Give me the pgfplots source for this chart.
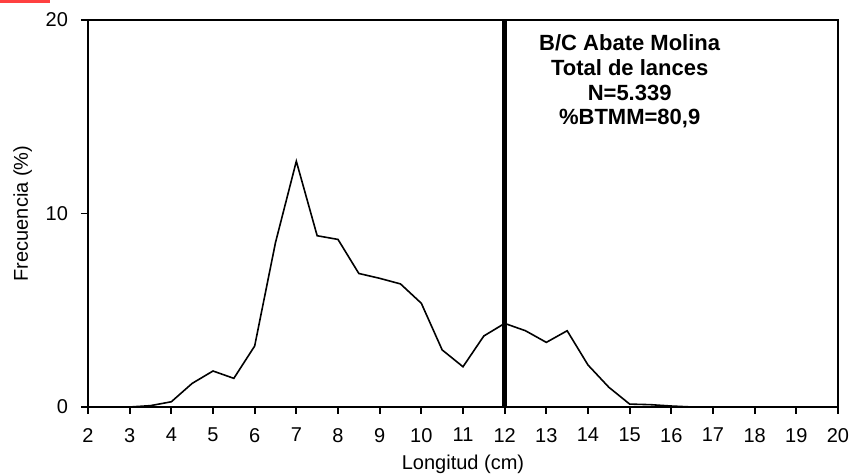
\documentclass[border=0pt]{standalone}
\usepackage{fontspec}
\setmainfont{Liberation Sans}
\usepackage{pgfplots}
\pgfplotsset{compat=1.18}

\begin{document}
\begin{tikzpicture}
\begin{axis}[
  width=375pt, height=193.5pt,
  scale only axis,
  xmin=2, xmax=20, ymin=0, ymax=20,
  xtick={2,3,...,20},
  ytick={0,10,20},
  tick align=outside,
  major tick length=3.5pt,
  xtick pos=bottom, ytick pos=left,
  axis line style={line width=1.2pt},
  every tick/.style={black, line width=0.9pt},
  tick label style={font=\fontsize{10}{12}\selectfont},
  /pgf/number format/assume math mode=true,
  xticklabel style={yshift=-3.5pt},
  yticklabel style={xshift=-3pt},
  xlabel={Longitud (cm)},
  ylabel={Frecuencia (\%)},
  label style={font=\fontsize{10}{12}\selectfont},
  xlabel style={yshift=0.5pt},
  ylabel style={yshift=0pt},
  clip=false,
]
\addplot[black, line width=0.8pt] coordinates {
  (3,0) (3.5,0.07) (4,0.27) (4.5,1.22) (5,1.86) (5.5,1.48) (6,3.15)
  (6.5,8.5) (7,12.7) (7.5,8.85) (8,8.66) (8.5,6.9) (9,6.65) (9.5,6.36)
  (10,5.36) (10.5,2.95) (11,2.08) (11.5,3.67) (12,4.32) (12.5,3.94)
  (13,3.34) (13.5,3.94) (14,2.17) (14.5,1.02) (15,0.15) (15.5,0.12)
  (16,0.05) (16.5,0) (20,0)
};
\addplot[black, line width=2.4pt] coordinates {(12,0) (12,20)};
\node[anchor=north, align=center, inner sep=0pt,
      font=\bfseries\fontsize{11}{12.3}\selectfont]
  at (axis cs:15,19.25) {B/C Abate Molina\\Total de lances\\N=5.339\\\%BTMM=80,9};
\end{axis}
\pgfresetboundingbox
\path (current axis.south west) ++(-44pt,-34pt) coordinate (bbsw);
\path (current axis.north east) ++(13pt,10pt) coordinate (bbne);
\path[use as bounding box] (bbsw) rectangle (bbne);
\fill[red!75!white] (bbsw |- bbne) rectangle ++(25pt,-1.5pt);
\end{tikzpicture}
\end{document}
